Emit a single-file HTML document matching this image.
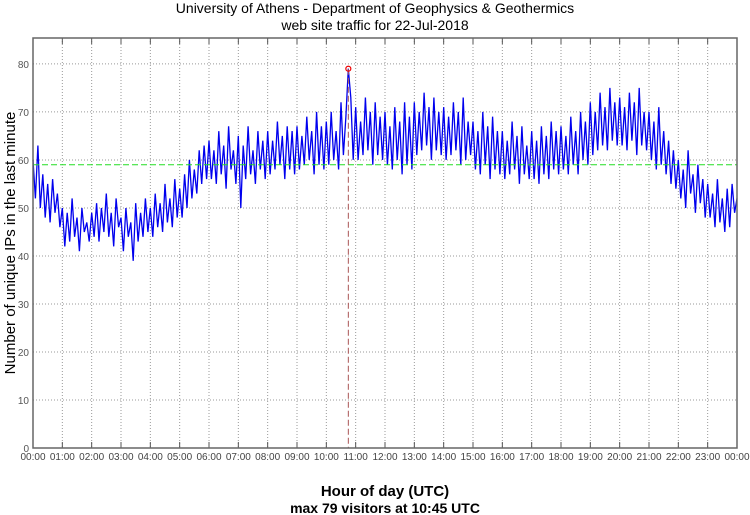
<!DOCTYPE html>
<html><head><meta charset="utf-8"><style>
body{margin:0;background:#fff;}
svg{display:block;font-family:"Liberation Sans",sans-serif;}
</style></head><body>
<svg id="chart" width="750" height="515">
<text x="375" y="13" text-anchor="middle" font-size="14">University of Athens - Department of Geophysics &amp; Geothermics</text>
<text x="375" y="30" text-anchor="middle" font-size="14">web site traffic for 22-Jul-2018</text>
<text transform="translate(15,243) rotate(-90)" text-anchor="middle" font-size="15">Number of unique IPs in the last minute</text>
<text x="385" y="496" text-anchor="middle" font-size="15" font-weight="bold">Hour of day (UTC)</text>
<text x="385" y="513" text-anchor="middle" font-size="14" font-weight="bold">max 79 visitors at 10:45 UTC</text>
<g id="grid"></g><g id="series"></g><g id="axes"></g>
</svg>
<script>
const yTicks=[0,10,20,30,40,50,60,70,80];
const xTickLabels=["00:00","01:00","02:00","03:00","04:00","05:00","06:00","07:00","08:00","09:00","10:00","11:00","12:00","13:00","14:00","15:00","16:00","17:00","18:00","19:00","20:00","21:00","22:00","23:00","00:00"];
const meanValue=59;
const maxValue=79;
const maxHour=10.75;
const visitors=[
60,52,63,50,57,48,55,47,56,49,53,46,
50,42,49,43,52,44,48,41,50,45,47,43,
49,44,51,43,50,45,53,44,49,42,52,46,
48,41,50,44,47,39,51,43,49,44,52,45,
50,44,53,46,51,45,55,47,52,46,56,48,
54,48,57,50,60,52,58,53,62,55,63,56,
64,56,62,55,66,57,63,54,67,58,62,55,
65,50,63,56,67,57,62,55,66,58,64,56,
66,57,64,58,68,59,65,56,67,58,66,57,
67,58,65,59,69,60,66,57,70,59,67,58,
68,59,70,60,66,58,72,61,69,79,73,60,
71,60,68,61,73,62,70,59,72,61,69,60,
70,59,67,58,71,60,68,57,72,59,69,58,
72,61,70,62,74,63,71,60,73,62,70,61,
71,60,69,61,72,62,70,59,73,60,68,61,
68,58,66,57,70,59,67,56,69,58,66,57,
66,56,64,57,68,58,65,55,67,57,63,56,
66,56,64,55,67,57,65,56,68,58,66,57,
67,58,65,57,69,59,66,57,70,60,68,59,
72,61,70,62,74,63,71,62,75,64,72,63,
73,63,71,62,74,64,72,61,75,63,70,62,
70,60,68,58,71,59,66,57,64,55,62,54,
60,52,58,50,62,53,57,49,59,51,56,48,
55,48,53,46,56,47,52,45,54,46,55,49,52];
const L=33,R=737,T=38,B=448,YMAX=85.4;
const xs=h=>L+(R-L)*h/24, ys=v=>B-(B-T)*v/YMAX;
const NS="http://www.w3.org/2000/svg";
function mk(tag,parent,at){const e=document.createElementNS(NS,tag);for(const k in at)e.setAttribute(k,at[k]);document.getElementById(parent).appendChild(e);return e;}
yTicks.forEach(v=>{
 const g=mk("line","grid",{x1:L,x2:R,y1:ys(v),y2:ys(v),stroke:"#999","stroke-dasharray":"1,2"});
 
 
 const t=mk("text","axes",{x:L-4,y:ys(v)+4,"text-anchor":"end","font-size":10,fill:"#555"});
 t.textContent=v;
 
 
});
xTickLabels.forEach((s,i)=>{
 const x=xs(i);
 if(i>0&&i<24){const g=mk("line","grid",{x1:x,x2:x,y1:T,y2:B,stroke:"#999","stroke-dasharray":"1,2"});
 
 }
 mk("line","axes",{x1:x,x2:x,y1:B,y2:B-6,stroke:"#555"});
 mk("line","axes",{x1:x,x2:x,y1:T,y2:T+6,stroke:"#555"});
 const t=mk("text","axes",{x:x,y:B+12,"text-anchor":"middle","font-size":10,fill:"#444"});
 t.textContent=s;
 
 
});
const border=mk("rect","axes",{x:L,y:T,width:R-L,height:B-T,fill:"none",stroke:"#666","stroke-width":1.5});


const n=visitors.length-1;
const pts=visitors.map((v,i)=>xs(24*i/n).toFixed(1)+","+ys(v).toFixed(1)).join(" ");
const line=mk("polyline","series",{points:pts,fill:"none",stroke:"#0000ee","stroke-width":1.3});


const mean=mk("line","series",{x1:L,x2:R,y1:ys(meanValue),y2:ys(meanValue),stroke:"#22dd22","stroke-dasharray":"6,3","stroke-width":1});


const vl=mk("line","series",{x1:xs(maxHour),x2:xs(maxHour),y1:ys(maxValue),y2:B,stroke:"#aa5555","stroke-dasharray":"6,3","stroke-width":1});


const mc=mk("circle","series",{cx:xs(maxHour),cy:ys(maxValue),r:2.5,fill:"none",stroke:"#ee0000","stroke-width":1.2});


</script>
</body></html>
